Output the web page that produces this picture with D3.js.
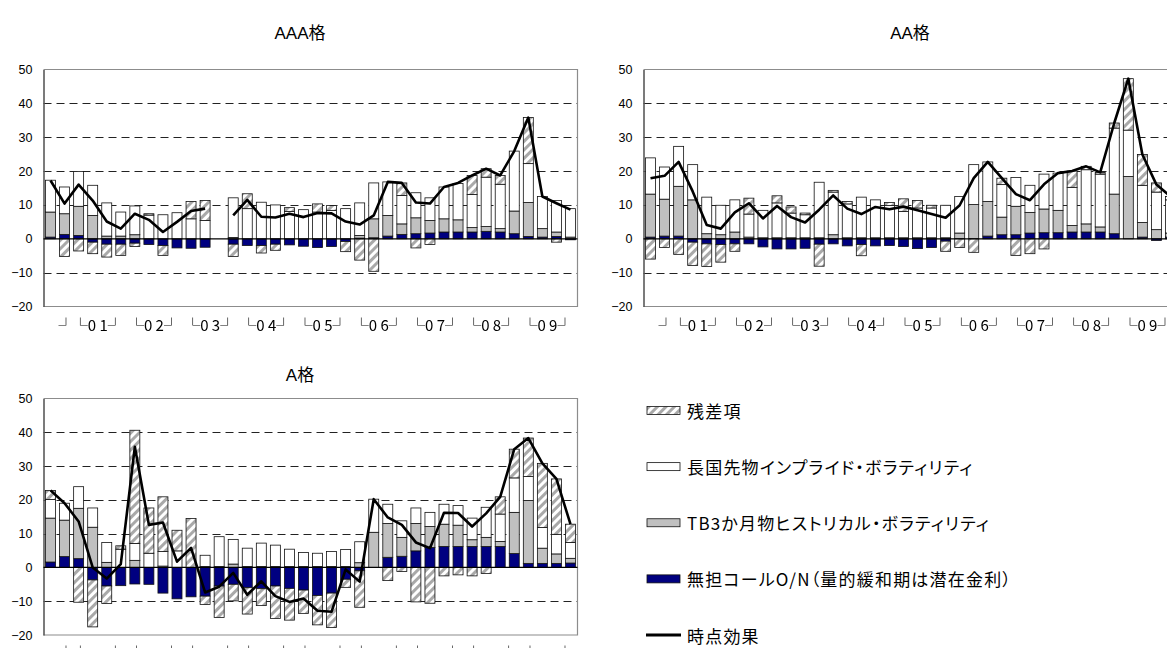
<!DOCTYPE html>
<html>
<head>
<meta charset="utf-8">
<script src="https://cdn.jsdelivr.net/npm/d3@7"></script>
<style>
  body { margin: 0; background: #fff; }
  svg { display: block; }
  .year-axis { filter: grayscale(100%); }
</style>
</head>
<body>
<svg id="chart" width="1167" height="648"></svg>
<script>
// Quarterly periods, 2000Q3 – 2009Q4
const quarters = [
  "2000Q3","2000Q4",
  "2001Q1","2001Q2","2001Q3","2001Q4",
  "2002Q1","2002Q2","2002Q3","2002Q4",
  "2003Q1","2003Q2","2003Q3","2003Q4",
  "2004Q1","2004Q2","2004Q3","2004Q4",
  "2005Q1","2005Q2","2005Q3","2005Q4",
  "2006Q1","2006Q2","2006Q3","2006Q4",
  "2007Q1","2007Q2","2007Q3","2007Q4",
  "2008Q1","2008Q2","2008Q3","2008Q4",
  "2009Q1","2009Q2","2009Q3","2009Q4"
];

// Year bracket labels on the category axis, anchored at each year's last quarter
const yearTickAt = ["2000Q4","2001Q4","2002Q4","2003Q4","2004Q4","2005Q4","2006Q4","2007Q4","2008Q4","2009Q4"];
const yearTickText = ["┘","└0 1┘","└0 2┘","└0 3┘","└0 4┘","└0 5┘","└0 6┘","└0 7┘","└0 8┘","└0 9┘"];

const yTicks = [50, 40, 30, 20, 10, 0, -10, -20];

// ---- AAA格 ----
const aaaCall  = [0.5,1.3,1.0,-1.0,-1.6,-1.6,-1.3,-1.7,-2.0,-2.7,-2.8,-2.5,null,-1.6,-2.0,-2.0,-1.6,-1.8,-2.2,-2.6,-2.3,-0.8,0.2,0.3,0.8,1.3,1.5,1.7,2.0,2.0,2.0,2.2,2.0,1.5,0.7,0.5,0.7,-0.3];
const aaaTb3   = [7.4,6.1,8.6,6.9,0.8,0.8,1.2,0.0,0.0,0.0,0.0,0.0,null,0.4,0.0,0.0,0.0,0.0,0.0,0.0,0.0,0.0,0.8,5.6,6.1,3.1,4.7,3.7,3.9,3.6,1.3,1.4,1.0,6.7,10.0,2.5,1.3,0.5];
const aaaJgb   = [9.4,7.9,10.3,8.9,9.8,7.1,8.5,7.0,7.1,7.7,5.9,5.4,null,11.7,8.9,10.8,10.0,8.1,8.6,7.9,8.4,8.9,9.6,10.6,9.9,8.4,7.4,6.7,9.4,10.7,9.8,14.6,13.1,17.7,11.5,9.5,9.3,8.4];
const aaaResid = [0.0,-5.2,-3.6,-3.4,-3.8,-3.3,-1.0,0.4,-2.9,0.0,5.1,5.9,null,-3.6,4.4,-2.2,-1.8,1.1,0.0,2.4,1.4,-3.0,-6.3,-9.6,0.0,3.7,-2.7,-1.7,0.0,0.0,5.6,2.5,2.6,0.0,13.6,0.0,-1.0,0.0];
const aaaTotal = [17.2,10.4,16.0,11.3,5.1,3.0,7.4,5.6,2.0,5.0,8.2,8.9,null,6.9,11.5,6.5,6.3,7.4,6.4,7.6,7.5,5.1,4.2,6.9,16.8,16.5,10.7,10.4,15.3,16.5,18.7,20.7,18.7,25.9,35.8,12.5,10.5,8.6];

// ---- AA格 ----
const aaCall  = [0.5,0.8,0.8,-1.0,-1.5,-1.7,-1.5,-1.5,-2.4,-3.0,-3.0,-2.8,-1.6,-1.5,-2.1,-1.7,-2.1,-2.0,-2.3,-2.9,-2.6,-0.7,0.0,0.0,0.8,1.2,1.2,1.7,1.8,1.8,2.0,2.0,2.0,1.5,0.0,0.5,-0.5,0.5];
const aaTb3   = [12.7,10.9,14.7,11.5,1.5,1.2,2.0,0.5,0.3,0.3,0.3,0.3,0.3,1.2,0.3,0.3,0.3,0.3,0.3,0.3,0.3,0.3,1.7,10.1,10.2,5.2,8.4,6.1,7.0,6.6,1.9,2.4,1.5,11.7,18.4,4.3,2.7,1.2];
const aaJgb   = [10.7,9.5,11.8,10.4,10.8,8.7,9.5,6.8,8.1,10.3,7.3,6.8,16.4,12.6,10.0,12.0,11.2,9.5,7.8,8.8,8.8,9.6,10.8,11.8,11.7,9.6,8.5,8.0,10.3,11.0,11.3,16.0,15.6,19.5,13.7,11.0,11.1,9.8];
const aaResid = [-6.0,-2.6,-4.6,-6.9,-6.7,-5.2,-2.2,4.7,0.0,2.1,1.8,0.5,-6.5,0.5,0.7,-3.3,0.0,0.9,3.7,2.2,0.8,-3.0,-2.6,-4.0,0.0,1.9,-4.9,-4.4,-3.0,0.0,4.8,1.0,0.5,1.5,15.2,9.1,2.7,1.0];
const aaTotal = [17.9,18.6,22.7,14.0,4.1,3.0,7.8,10.5,6.0,9.7,6.4,4.8,8.6,12.8,8.9,7.3,9.4,8.7,9.5,8.4,7.3,6.2,9.9,17.9,22.7,17.9,13.2,11.4,16.1,19.4,20.0,21.4,19.6,34.2,47.3,24.9,16.0,12.5];

// ---- A格 ----
const aCall  = [1.6,3.2,2.6,-3.7,-5.5,-5.4,-4.9,-5.0,-7.6,-9.3,-8.7,-8.5,-5.5,-5.0,-6.0,-6.3,-5.5,-6.2,-6.7,-8.3,-7.6,-3.5,-1.0,0.0,3.0,3.3,4.9,5.9,6.2,6.2,6.2,6.2,6.2,4.1,1.2,1.2,1.2,1.3];
const aTb3   = [13.0,10.8,14.9,11.9,1.5,0.0,2.1,0.0,0.4,0.0,0.0,0.3,0.3,1.0,0.3,0.3,0.3,0.3,0.3,0.3,0.3,0.3,1.4,10.4,10.0,5.6,8.1,6.2,6.6,6.3,2.0,2.7,1.5,12.2,18.6,4.5,2.8,1.4];
const aJgb   = [5.5,5.0,6.4,5.7,5.9,5.4,5.0,4.2,4.3,4.9,0.0,3.3,8.8,7.3,5.4,6.9,6.3,5.1,4.1,3.9,4.4,5.0,6.2,9.8,5.7,4.9,4.6,4.2,5.9,5.8,6.4,8.9,8.1,10.2,7.1,6.1,5.8,4.7];
const aResid = [2.7,0.0,-10.3,-13.9,-5.2,1.0,33.5,13.4,16.2,6.1,14.5,-2.5,-9.3,-4.9,-7.8,-5.0,-9.6,-9.4,-6.9,-8.7,-10.2,-2.4,-10.8,0.0,-3.9,-1.2,-10.2,-10.6,-2.5,-2.2,-2.5,-1.8,5.1,8.5,11.4,19.0,16.4,5.4];
const aTotal = [22.8,19.0,13.6,0.0,-3.3,1.0,35.7,12.6,13.3,1.7,5.8,-7.4,-5.7,-1.6,-8.1,-4.1,-8.5,-10.2,-9.2,-12.8,-13.1,-0.6,-4.2,20.2,14.8,12.6,7.4,5.7,16.2,16.1,12.1,16.0,20.9,35.0,38.3,30.8,26.2,12.8];

// Legend entries, top to bottom
const legendLabels = [
  "残差項",
  "長国先物インプライド・ボラティリティ",
  "TB3か月物ヒストリカル・ボラティリティ",
  "無担コールO/N（量的緩和期は潜在金利）",
  "時点効果"
];

const keys = ["call", "tb3", "jgb", "resid"];
const fills = { call: "#000080", tb3: "#C0C0C0", jgb: "#FFFFFF", resid: "url(#hatch)" };

const svg = d3.select("#chart");
const defs = svg.append("defs");
const hatch = defs.append("pattern")
  .attr("id", "hatch")
  .attr("patternUnits", "userSpaceOnUse")
  .attr("width", 6).attr("height", 6)
  .attr("patternTransform", "rotate(45)");
hatch.append("rect").attr("width", 6).attr("height", 6).attr("fill", "#ffffff");
hatch.append("rect").attr("x", 1).attr("width", 3).attr("height", 6).attr("fill", "#a9a9a9");

const latinFont = "'Liberation Sans', Arial, 'Noto Sans CJK JP', sans-serif";
const cjkFont = "'Noto Sans CJK JP', 'Liberation Sans', sans-serif";

function drawPanel(cfg) {
  const g = svg.append("g");
  const x = d3.scaleBand().domain(quarters)
    .range([cfg.x0, cfg.x1]).paddingInner(0.29).paddingOuter(0.145);
  const y = d3.scaleLinear().domain([-20, 50]).range([cfg.yBot, cfg.yTop]);

  const rows = quarters.map((q, i) => ({
    q,
    missing: cfg.call[i] === null,
    call: cfg.call[i] ?? 0,
    tb3: cfg.tb3[i] ?? 0,
    jgb: cfg.jgb[i] ?? 0,
    resid: cfg.resid[i] ?? 0
  }));

  // title
  g.append("text")
    .attr("x", cfg.titleX).attr("y", cfg.titleY)
    .attr("text-anchor", "middle")
    .attr("dominant-baseline", "central")
    .style("font-family", latinFont)
    .style("font-size", "17px")
    .text(cfg.title);

  // dashed gridlines
  g.append("g").selectAll("line")
    .data(yTicks.filter(t => t !== 0 && t !== 50 && t !== -20))
    .join("line")
    .attr("x1", cfg.x0).attr("x2", cfg.x1)
    .attr("y1", d => Math.round(y(d)) + 0.5).attr("y2", d => Math.round(y(d)) + 0.5)
    .attr("stroke", "#222").attr("stroke-width", 1)
    .attr("stroke-dasharray", "8,5");

  // plot frame
  g.append("path")
    .attr("d", `M${cfg.x0},${y(50)}H${cfg.x1}V${y(-20)}H${cfg.x0}`)
    .attr("fill", "none").attr("stroke", "#8c8c8c").attr("stroke-width", 1.2);

  // stacked bars
  const stacked = d3.stack().keys(keys).offset(d3.stackOffsetDiverging)(rows);
  g.append("g").selectAll("g")
    .data(stacked)
    .join("g")
    .attr("fill", d => fills[d.key])
    .selectAll("rect")
    .data(d => d.filter(s => !s.data.missing && s[1] !== s[0]))
    .join("rect")
    .attr("x", d => x(d.data.q))
    .attr("width", x.bandwidth())
    .attr("y", d => y(Math.max(d[0], d[1])))
    .attr("height", d => Math.abs(y(d[0]) - y(d[1])))
    .attr("stroke", "#111").attr("stroke-width", 0.8);

  // value axis
  const yAxis = g.append("g")
    .attr("transform", `translate(${cfg.x0},0)`)
    .call(d3.axisLeft(y).tickValues(yTicks).tickSize(0).tickPadding(11));
  yAxis.select(".domain").attr("stroke", "#5a5a5a").attr("stroke-width", 1.6);
  yAxis.selectAll("text")
    .style("font-family", latinFont).style("font-size", "12.5px").attr("fill", "#000");

  // zero line
  g.append("line")
    .attr("x1", cfg.x0).attr("x2", cfg.x1)
    .attr("y1", y(0)).attr("y2", y(0))
    .attr("stroke", "#000").attr("stroke-width", 1.2);

  // category axis labels: bracketed two-digit years, each full year centred on its quarters
  const step = x.step();
  const xAxis = g.append("g")
    .attr("class", "year-axis")
    .attr("transform", `translate(0,${y(-20)})`)
    .call(d3.axisBottom(x).tickValues(yearTickAt).tickSize(0).tickPadding(0)
      .tickFormat(q => yearTickText[yearTickAt.indexOf(q)]));
  xAxis.select(".domain").remove();
  xAxis.selectAll("text")
    .attr("text-anchor", "middle")
    .attr("y", 24).attr("dy", null)
    .attr("dx", (d, i) => yearTickText[i].length > 1 ? -1.5 * step - 2 : 1.5)
    .style("font-family", cjkFont).style("font-size", "15px")
    .attr("fill", "#000");

  // time-point effect line
  const line = d3.line()
    .defined(d => d.v !== null)
    .x(d => x(d.q) + x.bandwidth() / 2)
    .y(d => y(d.v));
  g.append("path")
    .datum(quarters.map((q, i) => ({ q, v: cfg.total[i] })))
    .attr("d", line)
    .attr("fill", "none").attr("stroke", "#000")
    .attr("stroke-width", 2.6).attr("stroke-linejoin", "round");
}

drawPanel({ title: "AAA格", titleX: 300, titleY: 33, x0: 43.5, x1: 577.5, yTop: 69.5, yBot: 306.5,
  call: aaaCall, tb3: aaaTb3, jgb: aaaJgb, resid: aaaResid, total: aaaTotal });
drawPanel({ title: "AA格", titleX: 910, titleY: 33, x0: 643.5, x1: 1177.5, yTop: 69.5, yBot: 306.5,
  call: aaCall, tb3: aaTb3, jgb: aaJgb, resid: aaResid, total: aaTotal });
drawPanel({ title: "A格", titleX: 300, titleY: 375, x0: 43.5, x1: 577.5, yTop: 398.5, yBot: 635,
  call: aCall, tb3: aTb3, jgb: aJgb, resid: aResid, total: aTotal });

// legend
const legendY = d3.scalePoint().domain(legendLabels).range([410.5, 635]);
const legend = svg.append("g");
const swatchFills = ["url(#hatch)", "#FFFFFF", "#C0C0C0", "#000080"];
legendLabels.forEach((lab, i) => {
  const cy = legendY(lab);
  if (i < 4) {
    legend.append("rect")
      .attr("x", 647).attr("y", cy - 4).attr("width", 33).attr("height", 8)
      .attr("fill", swatchFills[i]).attr("stroke", "#111").attr("stroke-width", 0.8);
  } else {
    legend.append("line")
      .attr("x1", 646).attr("x2", 681).attr("y1", cy).attr("y2", cy)
      .attr("stroke", "#000").attr("stroke-width", 3);
  }
  legend.append("text")
    .attr("x", 687).attr("y", cy)
    .attr("dominant-baseline", "central")
    .style("font-family", cjkFont)
    .style("font-size", "17px")
    .style("font-feature-settings", "'palt' 1")
    .style("letter-spacing", "1.2px")
    .text(lab);
});
</script>
</body>
</html>
